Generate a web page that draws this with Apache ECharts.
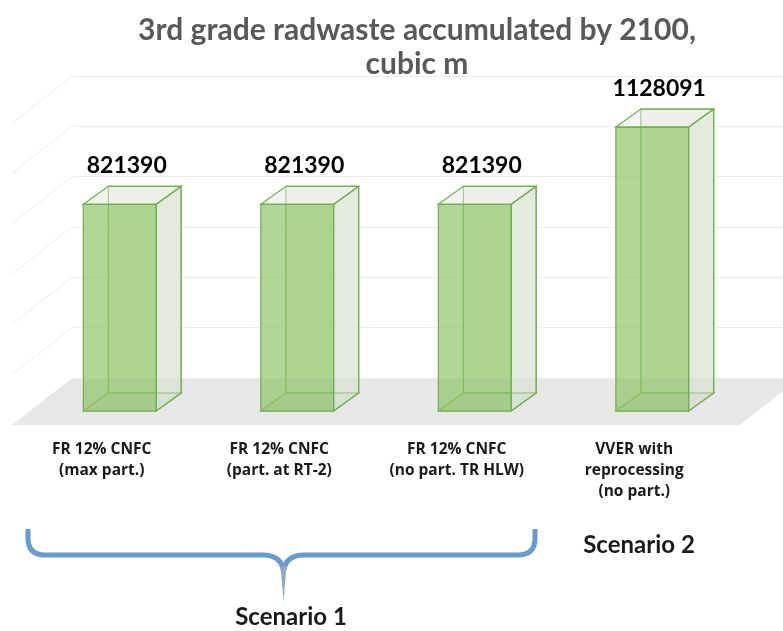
<!DOCTYPE html>
<html>
<head>
<meta charset="utf-8">
<script src="https://cdn.jsdelivr.net/npm/echarts@6/dist/echarts.min.js"></script>
<style>
  html, body { margin: 0; padding: 0; background: #fff; }
  #chart { width: 783px; height: 631px; }
</style>
</head>
<body>
<div id="chart"></div>
<script>
// data
const categories = [
  "FR 12% CNFC\n(max part.)",
  "FR 12% CNFC\n(part. at RT-2)",
  "FR 12% CNFC\n(no part. TR HLW)",
  "VVER with\nreprocessing\n(no part.)"
];
const values = [821390, 821390, 821390, 1128091];
const yMax = 1200000;
const yStep = 200000;
const titleText = "3rd grade radwaste accumulated by 2100,\ncubic m";
const groupNames = ["Scenario 1", "Scenario 2"];

const FONT = "Lato";
const LABEL_FONT = "Open Sans";

// fake 3d: shift from the back wall to the front / back faces of the boxes
const FRONT = [-42, 33];
const BACK = [-17, 15];
const FLOOR = [-60, 47];

const chart = echarts.init(document.getElementById("chart"));

function boxItem(params, api) {
  const i = api.value(0);
  const v = api.value(1);
  const base = api.coord([i, 0]);
  const top = api.coord([i, v]);
  const w = api.size([1, 0])[0] * 0.41;
  const h = base[1] - top[1];

  const fx = base[0] + FRONT[0] - w / 2, fy = base[1] + FRONT[1];
  const bx = base[0] + BACK[0] - w / 2, by = base[1] + BACK[1];
  const line = "#72ad4e";
  const poly = (pts, fill) => ({
    type: "polygon",
    shape: { points: pts },
    style: { fill: fill, stroke: line, lineWidth: 1.2 }
  });

  // corners
  const fbl = [fx, fy], fbr = [fx + w, fy], ftl = [fx, fy - h], ftr = [fx + w, fy - h];
  const bbl = [bx, by], bbr = [bx + w, by], btl = [bx, by - h], btr = [bx + w, by - h];

  return {
    type: "group",
    children: [
      poly([bbl, bbr, btr, btl], "rgba(225,232,221,0.35)"),
      poly([fbl, bbl, bbr, fbr], "rgba(200,210,196,0.3)"),
      poly([fbr, bbr, btr, ftr], "rgba(214,224,208,0.55)"),
      poly([ftl, btl, btr, ftr], "rgba(228,234,224,0.5)"),
      poly([fbl, fbr, ftr, ftl], "rgba(138,196,98,0.68)"),
      {
        type: "text",
        style: {
          text: String(v),
          x: base[0] + FRONT[0] + 7,
          y: fy - h - 39,
          align: "center",
          verticalAlign: "middle",
          fontFamily: FONT,
          fontWeight: "bold",
          fontSize: 23,
          fill: "#000"
        }
      },
      {
        type: "text",
        style: {
          text: categories[i],
          x: base[0] - 60,
          y: base[1] + 61,
          align: "center",
          verticalAlign: "top",
          fontFamily: LABEL_FONT,
          fontWeight: "bold",
          fontSize: 15.5,
          lineHeight: 21,
          fill: "#1a1a1a"
        }
      }
    ]
  };
}

chart.setOption({
  animation: false,
  title: {
    text: titleText,
    left: 412,
    textAlign: "center",
    top: 8,
    textStyle: {
      fontFamily: FONT,
      fontWeight: "bold",
      fontSize: 30,
      lineHeight: 34,
      color: "#595959"
    }
  },
  grid: { left: 73, top: 76, width: 716, bottom: 253 },
  xAxis: {
    type: "category",
    data: categories,
    axisLine: { show: false },
    axisTick: { show: false },
    axisLabel: { show: false }
  },
  yAxis: {
    type: "value",
    min: 0,
    max: yMax,
    interval: yStep,
    axisLine: { show: false },
    axisTick: { show: false },
    axisLabel: { show: false },
    splitLine: { lineStyle: { color: "#ececec", width: 1 } }
  },
  series: [{
    type: "custom",
    renderItem: boxItem,
    data: values.map((v, i) => [i, v]),
    z: 5
  }]
});

// floor, side wall lines, brace and group names
const y0 = chart.convertToPixel({ yAxisIndex: 0 }, 0);
const wallX = 72;
const deco = [];

deco.push({
  type: "polygon",
  z: -1,
  shape: { points: [[wallX, y0], [800, y0], [800 + FLOOR[0], y0 + FLOOR[1]], [wallX + FLOOR[0], y0 + FLOOR[1]]] },
  style: { fill: "#e7e7e7" }
});

for (let v = yStep; v <= yMax; v += yStep) {
  const y = chart.convertToPixel({ yAxisIndex: 0 }, v);
  deco.push({
    type: "line",
    z: -1,
    shape: { x1: wallX, y1: y, x2: wallX + FLOOR[0], y2: y + FLOOR[1] },
    style: { stroke: "#ececec", lineWidth: 1 }
  });
}

// curly brace under scenario 1
const braceStyle = { stroke: "#6a9bcf", lineWidth: 5, fill: null };
const braceLines = [
  [28, 529, 28, 538],
  [45, 555, 263, 555],
  [304, 555, 518, 555],
  [535, 538, 535, 529]
];
braceLines.forEach((s) => {
  deco.push({ type: "line", shape: { x1: s[0], y1: s[1], x2: s[2], y2: s[3] }, style: braceStyle });
});
const braceCurves = [
  [28, 538, 45, 555, 28, 555],
  [263, 555, 283.5, 571, 281, 555],
  [304, 555, 283.5, 571, 286, 555],
  [518, 555, 535, 538, 535, 555]
];
braceCurves.forEach((c) => {
  deco.push({
    type: "bezierCurve",
    shape: { x1: c[0], y1: c[1], x2: c[2], y2: c[3], cpx1: c[4], cpy1: c[5] },
    style: braceStyle
  });
});
deco.push({
  type: "polygon",
  shape: { points: [[280.5, 566], [286.5, 566], [283.5, 601]] },
  style: { fill: "#8ea9c0" }
});

deco.push({
  type: "text",
  style: {
    text: groupNames[1], x: 639, y: 545, align: "center", verticalAlign: "middle",
    fontFamily: FONT, fontWeight: "bold", fontSize: 24, fill: "#1a1a1a"
  }
});
deco.push({
  type: "text",
  style: {
    text: groupNames[0], x: 291, y: 617, align: "center", verticalAlign: "middle",
    fontFamily: FONT, fontWeight: "bold", fontSize: 24, fill: "#1a1a1a"
  }
});

chart.setOption({ graphic: deco });
</script>
</body>
</html>
